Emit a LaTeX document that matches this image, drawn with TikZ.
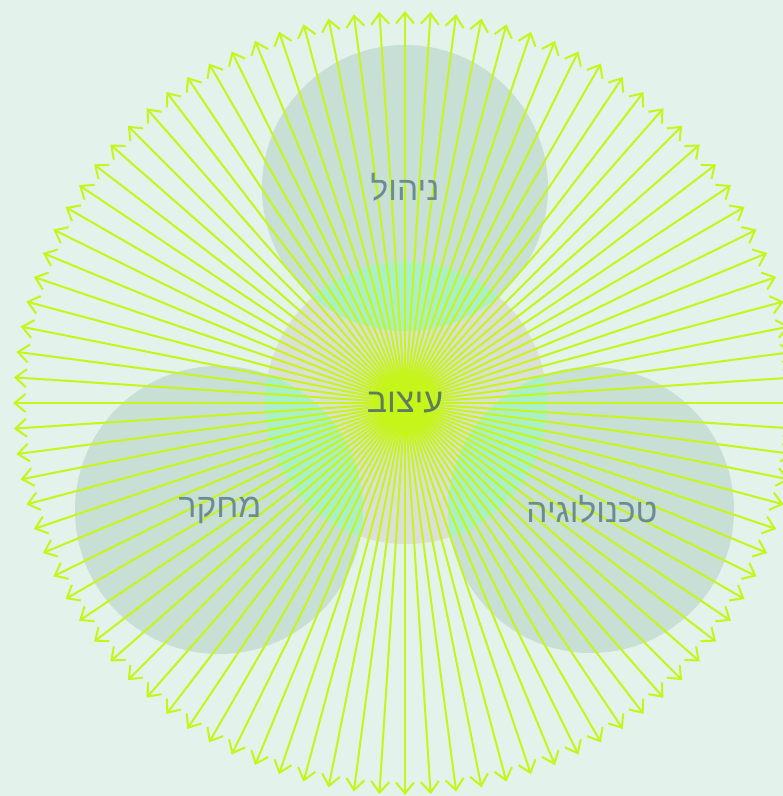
\documentclass[tikz,border=0pt]{standalone}
\usepackage{fontspec}
\newfontfamily\hebfont[Script=Hebrew]{Liberation Sans}
\TeXXeTstate=1
\usetikzlibrary{arrows.meta,calc}
\definecolor{bgc}{RGB}{227,242,234}
\definecolor{outerc}{RGB}{200,223,214}
\definecolor{centerc}{RGB}{220,222,218}
\definecolor{overc}{RGB}{169,240,201}
\definecolor{rayc}{RGB}{198,245,25}
\definecolor{labc}{RGB}{108,140,148}
\definecolor{clabc}{RGB}{94,124,96}
\tikzset{
  ray/.style={draw=rayc, line width=2pt, -{Straight Barb[length=11pt,width=18pt]}},
  lab/.style={font=\hebfont\fontsize{33.5}{40}\selectfont, text=labc, inner sep=0pt},
  clab/.style={font=\hebfont\fontsize{34}{40}\selectfont, text=clabc, inner sep=0pt}
}
\begin{document}
\begin{tikzpicture}[x=1pt,y=1pt]
\fill[bgc] (0,0) rectangle (783,796);
\useasboundingbox (0,0) rectangle (783,796);
\clip (0,0) rectangle (783,796);
% outer circles
\fill[outerc] (405,608) circle (143);
\fill[outerc] (219,286) circle (144);
\fill[outerc] (591,286) circle (143);
% center circle
\fill[centerc] (406,393) circle (141);
\begin{scope}
  \clip (406,393) circle (141);
  \fill[overc] (405,608) circle (143);
  \fill[overc] (219,286) circle (144);
  \fill[overc] (591,286) circle (143);
\end{scope}
\coordinate (c) at (405,393);
\foreach \i in {0,...,95} {
  \coordinate (e\i) at ($(c)+({3.75*\i}:392)$);
  \draw[ray] (c) -- (e\i);
}
\node[lab] (top) at (405,609) {\beginR ניהול\endR};
\node[lab] (left) at (220,286) {\beginR מחקר\endR};
\node[lab] (right) at (592,287) {\beginR טכנולוגיה\endR};
\node[clab] (mid) at (405,393) {\beginR עיצוב\endR};
\end{tikzpicture}
\end{document}
